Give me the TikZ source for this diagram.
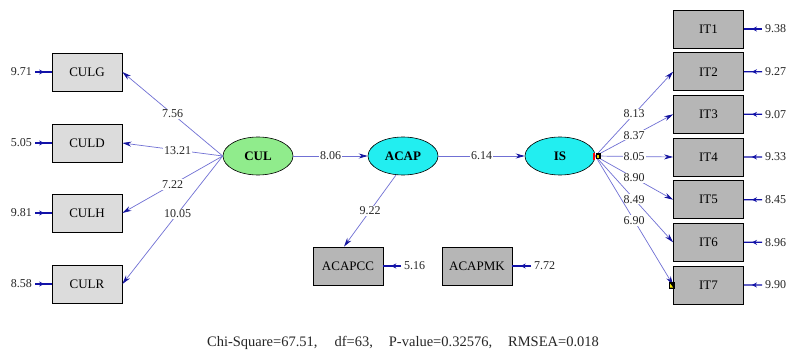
\documentclass[tikz,border=0pt]{standalone}
\usepackage{fontspec}
\setmainfont{Liberation Serif}
\usetikzlibrary{arrows.meta,shapes.geometric,decorations.markings,calc}
\definecolor{boxlight}{RGB}{220,220,220}
\definecolor{boxdark}{RGB}{182,182,182}
\definecolor{culgreen}{RGB}{144,236,140}
\definecolor{cyanfill}{RGB}{34,238,240}
\definecolor{linecol}{RGB}{112,112,212}
\definecolor{tipcol}{RGB}{22,22,160}
\definecolor{errcol}{RGB}{18,18,168}
\tikzset{
  obsbox/.style={rectangle, draw=black, line width=0.8pt, minimum width=70pt, minimum height=38pt, inner sep=0pt, font=\fontsize{13}{15}\selectfont},
  lbox/.style={obsbox, fill=boxlight},
  dbox/.style={obsbox, fill=boxdark},
  latent/.style={ellipse, draw=black, line width=0.6pt, minimum width=70pt, minimum height=38pt, inner sep=0pt, font=\fontsize{13}{15}\selectfont\bfseries},
  sempath/.style={draw=linecol, line width=0.7pt, -{Stealth[length=9pt,width=5pt,color=tipcol]}},
  coef/.style={fill=white, inner sep=1pt, font=\fontsize{12}{14}\selectfont, text=black!85},
  errlab/.style={inner sep=1pt, font=\fontsize{12}{14}\selectfont, text=black!85},
  errline/.style={draw=errcol, line width=1.3pt, postaction={decorate},
    decoration={markings, mark=at position 0.6 with {\arrow{Stealth[length=5pt,width=5pt]}}}}
}
\begin{document}
\begin{tikzpicture}[x=1pt,y=-1pt]
\useasboundingbox (0,0) rectangle (788,353);
\fill[white] (0,0) rectangle (788,353);

% left indicators
\node[lbox] (CULG) at (87,72) {CULG};
\node[lbox] (CULD) at (87,143) {CULD};
\node[lbox] (CULH) at (87,213) {CULH};
\node[lbox] (CULR) at (87,284) {CULR};

% latents
\node[latent, fill=culgreen] (CUL) at (258,156) {CUL};
\node[latent, fill=cyanfill] (ACAP) at (403,156) {ACAP};
\node[latent, fill=cyanfill] (IS) at (560,156) {IS};

% ACAP indicators
\node[dbox] (ACAPCC) at (348,266) {ACAPCC};
\node[dbox] (ACAPMK) at (477,266) {ACAPMK};

% right indicators
\foreach \i/\y in {1/29,2/71.7,3/114.3,4/157,5/199.7,6/242.3,7/285}{
  \node[dbox] (IT\i) at (708.5,\y) {IT\i};
}

% error labels left
\node[errlab, anchor=east] (eG) at (33,72) {9.71};
\node[errlab, anchor=east] (eD) at (33,143) {5.05};
\node[errlab, anchor=east] (eH) at (33,213) {9.81};
\node[errlab, anchor=east] (eR) at (33,284) {8.58};
\foreach \n in {G,D,H,R}{
  \draw[errline, shorten <=2pt] (e\n.east) -- (CUL\n.west);
}
% error labels ACAP indicators
\node[errlab, anchor=west] (eCC) at (403,266) {5.16};
\node[errlab, anchor=west] (eMK) at (533,266) {7.72};
\draw[errline, shorten <=2pt] (eCC.west) -- (ACAPCC.east);
\draw[errline, shorten <=2pt] (eMK.west) -- (ACAPMK.east);

% error labels right
\foreach \i/\v in {1/9.38,2/9.27,3/9.07,4/9.33,5/8.45,6/8.96,7/9.90}{
  \node[errlab, anchor=west] (eI\i) at (764,{29+42.67*(\i-1)}) {\v};
  \draw[errline, shorten <=2pt] (eI\i.west) -- (IT\i.east);
}

% structural paths
\draw[sempath] (CUL.west) -- node[coef]{7.56} (CULG.east);
\draw[sempath] (CUL.west) -- node[coef, pos=0.45]{13.21} (CULD.east);
\draw[sempath] (CUL.west) -- node[coef]{7.22} (CULH.east);
\draw[sempath] (CUL.west) -- node[coef, pos=0.45]{10.05} (CULR.east);

\draw[sempath] (CUL.east) -- node[coef]{8.06} (ACAP.west);
\draw[sempath] (ACAP.east) -- node[coef]{6.14} (IS.west);
\draw[sempath] (ACAP.250) -- node[coef]{9.22} ($(ACAPCC.north)+(-4,0)$);

\draw[sempath] (IS.east) -- node[coef]{8.13} (IT2.west);
\draw[sempath] (IS.east) -- node[coef]{8.37} (IT3.west);
\draw[sempath] (IS.east) -- node[coef]{8.05} (IT4.west);
\draw[sempath] (IS.east) -- node[coef]{8.90} (IT5.west);
\draw[sempath] (IS.east) -- node[coef]{8.49} (IT6.west);
\draw[sempath] (IS.east) -- node[coef]{6.90} (IT7.west);

% selection handles
\fill[red] ([xshift=-2pt,yshift=-3.5pt]IS.east) rectangle ([yshift=3.5pt]IS.east);
\fill[black] ([xshift=1pt,yshift=-3pt]IS.east) rectangle ([xshift=6pt,yshift=3pt]IS.east);
\fill[yellow!80!olive] ([xshift=2pt,yshift=-2pt]IS.east) rectangle ([xshift=4pt,yshift=1pt]IS.east);
\fill[black] ([xshift=-4pt,yshift=-3.5pt]IT7.west) rectangle ([xshift=2pt,yshift=3.5pt]IT7.west);
\fill[yellow] ([xshift=-3pt,yshift=-2.5pt]IT7.west) -- ([xshift=0pt,yshift=-2.5pt]IT7.west) -- ([xshift=-3pt,yshift=1.5pt]IT7.west) -- cycle;

% fit statistics
\node[font=\fontsize{14.5}{16}\selectfont, text=black!85, inner sep=0pt] (fit) at (403,343)
  {Chi-Square=67.51,\hspace{17pt}df=63,\hspace{16pt}P-value=0.32576,\hspace{16pt}RMSEA=0.018};
\end{tikzpicture}
\end{document}
